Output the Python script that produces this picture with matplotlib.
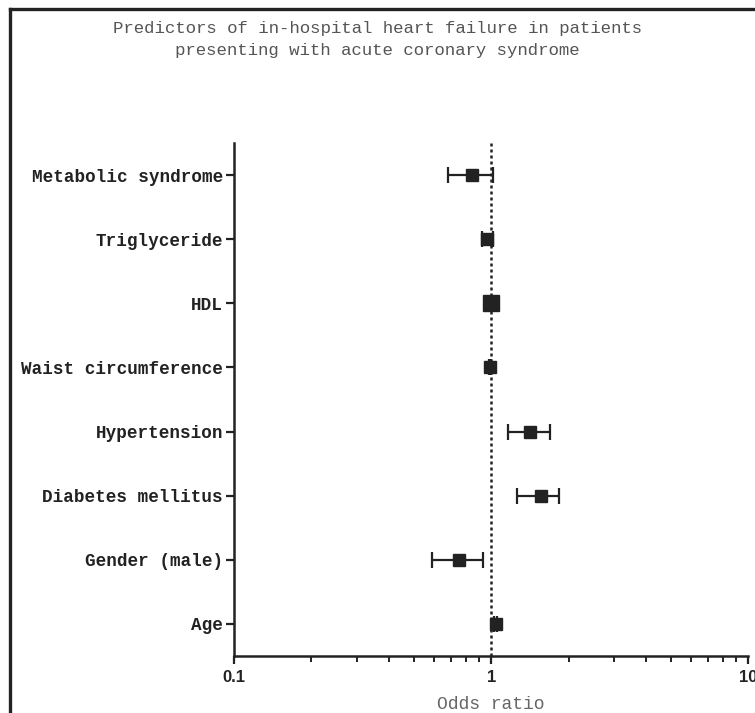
import matplotlib
matplotlib.use("Agg")
import matplotlib.pyplot as plt
from matplotlib.lines import Line2D
from matplotlib.ticker import LogLocator, FixedLocator, NullFormatter

# Odds ratios with 95% CI
predictors = ['Metabolic syndrome', 'Triglyceride', 'HDL', 'Waist circumference',
              'Hypertension', 'Diabetes mellitus', 'Gender (male)', 'Age']
odds_ratio = [0.84, 0.965, 1.00, 0.99, 1.42, 1.56, 0.75, 1.04]
ci_low = [0.68, 0.92, 0.96, 0.985, 1.16, 1.26, 0.59, 1.03]
ci_high = [1.02, 1.02, 1.04, 0.995, 1.70, 1.84, 0.93, 1.05]

title = ('Predictors of in-hospital heart failure in patients\n'
         'presenting with acute coronary syndrome')

ink = '#222222'
mono = 'Liberation Mono'

fig = plt.figure(figsize=(7.55, 7.13), dpi=100)
ax = fig.add_axes([0.31, 0.08, 0.681, 0.7195])

n = len(predictors)
ypos = [n - 1 - i for i in range(n)]

ax.axvline(1, color=ink, linestyle=(0, (1.2, 1.2)), linewidth=1.8, zorder=1)

for i in range(n):
    ms = 12 if predictors[i] == 'HDL' else 8
    err = [[odds_ratio[i] - ci_low[i]], [ci_high[i] - odds_ratio[i]]]
    ax.errorbar(odds_ratio[i], ypos[i], xerr=err, fmt='s', color=ink,
                markersize=ms, elinewidth=1.6, capsize=6, capthick=1.6,
                zorder=3)

ax.set_xscale('log')
ax.set_xlim(0.1, 10)
ax.set_ylim(-0.5, n - 0.5)

ax.xaxis.set_major_locator(FixedLocator([0.1, 1, 10]))
ax.set_xticklabels(['0.1', '1', '10'], fontweight='bold', fontsize=12,
                   family='Liberation Sans', color=ink)
ax.xaxis.set_minor_locator(LogLocator(base=10, subs=range(2, 10)))
ax.xaxis.set_minor_formatter(NullFormatter())
ax.tick_params(axis='x', which='major', length=6, width=1.6, color=ink, pad=4)
ax.tick_params(axis='x', which='minor', length=4, width=1.4, color=ink)

ax.set_yticks(ypos)
ax.set_yticklabels(predictors, family=mono, fontweight='bold', fontsize=12.7,
                   color=ink)
ax.tick_params(axis='y', length=6, width=1.6, color=ink, pad=2)

for side in ['top', 'right']:
    ax.spines[side].set_visible(False)
for side in ['left', 'bottom']:
    ax.spines[side].set_linewidth(1.8)
    ax.spines[side].set_color(ink)

ax.set_xlabel('Odds ratio', family=mono, fontsize=13, color='#666666',
              labelpad=8)
fig.text(0.5, 0.971, title, ha='center', va='top', family=mono,
         fontsize=12.5, color='#555555', linespacing=1.6)

# frame lines at left and top of the figure
fig.add_artist(Line2D([0.0139, 0.0139], [0, 0.988], color=ink, linewidth=2.4))
fig.add_artist(Line2D([0.0139, 1], [0.988, 0.988], color=ink, linewidth=2.4))

fig.savefig('out.png', dpi=100)
